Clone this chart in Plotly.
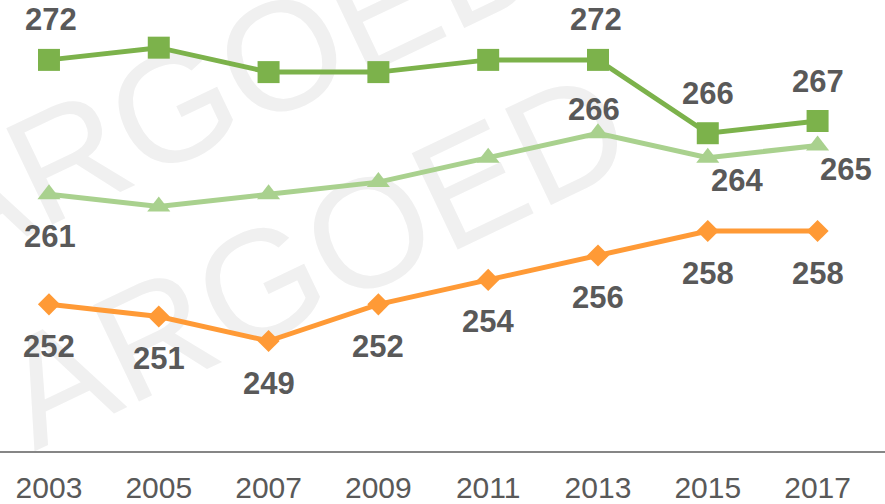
import plotly.graph_objects as go

years = ["2003", "2005", "2007", "2009", "2011", "2013", "2015", "2017"]
dark_green = [272, 273, 271, 271, 272, 272, 266, 267]
light_green = [261, 260, 261, 262, 264, 266, 264, 265]
orange = [252, 251, 249, 252, 254, 256, 258, 258]

# which points carry a data label, and pixel offsets (dx, dy) from the marker
dark_labels = {0: (2, -40), 5: (-2, -40), 6: (0, -40), 7: (0, -40)}
light_labels = {0: (1, 42), 5: (-4, -24), 6: (29, 23), 7: (28, 24)}
orange_labels = {i: (0, 42) for i in range(len(years))}

DARK = "#7CB24B"
LIGHT = "#A9D18E"
ORANGE = "#FF9A36"
TXT = "#595959"
FONT = "Liberation Sans, Arial, sans-serif"

fig = go.Figure()
fig.add_trace(go.Scatter(x=years, y=dark_green, mode="lines+markers",
                         line=dict(color=DARK, width=5),
                         marker=dict(symbol="square", size=22, color=DARK),
                         hoverinfo="skip"))
fig.add_trace(go.Scatter(x=years, y=light_green, mode="lines+markers",
                         line=dict(color=LIGHT, width=5),
                         marker=dict(symbol="triangle-up", size=20, color=LIGHT),
                         hoverinfo="skip"))
fig.add_trace(go.Scatter(x=years, y=orange, mode="lines+markers",
                         line=dict(color=ORANGE, width=5),
                         marker=dict(symbol="diamond", size=17, color=ORANGE),
                         hoverinfo="skip"))

annotations = []
for series, labels in ((dark_green, dark_labels), (light_green, light_labels), (orange, orange_labels)):
    for i, (dx, dy) in labels.items():
        annotations.append(dict(x=i, y=series[i], xref="x", yref="y",
                                text="<b>%d</b>" % series[i], showarrow=False,
                                xshift=dx, yshift=-dy,
                                xanchor="center", yanchor="middle",
                                font=dict(family=FONT, size=31, color=TXT)))

# watermark (behind the data)
shapes = []
for cx, cy in ((221 / 885, (451 - 68) / 451), (308 / 885, (451 - 245) / 451)):
    shapes.append(dict(type="rect", xref="paper", yref="paper",
                       x0=cx - 0.01, x1=cx + 0.01, y0=cy - 0.01, y1=cy + 0.01,
                       line=dict(width=0), fillcolor="rgba(0,0,0,0)", layer="below",
                       label=dict(text="ARGOED", textangle=-25.5, textposition="middle center",
                                  font=dict(family=FONT, size=155, color="#F0F0F0"))))

fig.update_layout(
    width=885, height=504,
    margin=dict(l=0, r=0, t=0, b=53),
    paper_bgcolor="white", plot_bgcolor="rgba(0,0,0,0)",
    showlegend=False,
    annotations=annotations,
    shapes=shapes,
    xaxis=dict(type="category", range=[-0.446, 7.614], showgrid=False, zeroline=False,
               showline=True, linecolor="#868686", linewidth=1.5, automargin=False,
               ticks="", tickfont=dict(family=FONT, size=30, color=TXT),
               ticklabelstandoff=9, fixedrange=True),
    yaxis=dict(range=[240, 276.9], showgrid=False, zeroline=False, showline=False,
               showticklabels=False, ticks="", automargin=False, fixedrange=True),
)

fig.write_html("out.html", config={"displayModeBar": False},
               post_script="document.body.style.margin='0';")
